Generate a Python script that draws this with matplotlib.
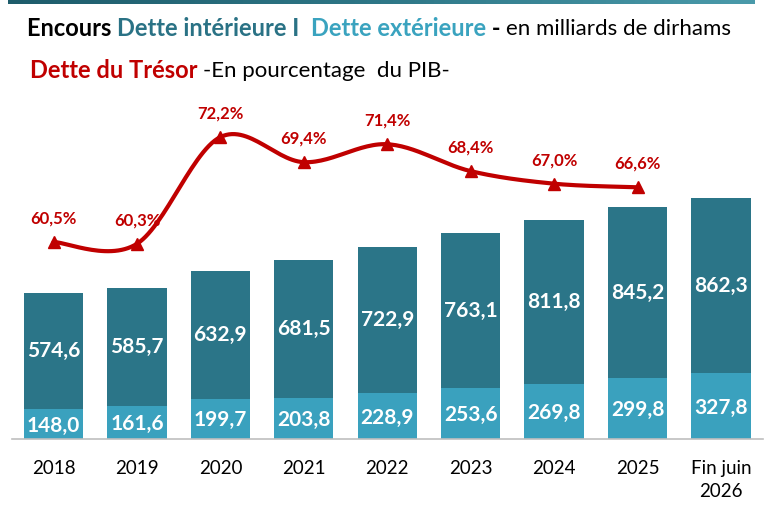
import numpy as np
import matplotlib
matplotlib.use('Agg')
import matplotlib.pyplot as plt
from matplotlib.colors import LinearSegmentedColormap

plt.rcParams['font.family'] = ['Lato', 'DejaVu Sans']

years = ['2018', '2019', '2020', '2021', '2022', '2023', '2024', '2025', 'Fin juin\n2026']
interieure = [574.6, 585.7, 632.9, 681.5, 722.9, 763.1, 811.8, 845.2, 862.3]
exterieure = [148.0, 161.6, 199.7, 203.8, 228.9, 253.6, 269.8, 299.8, 327.8]
pct_pib = [60.5, 60.3, 72.2, 69.4, 71.4, 68.4, 67.0, 66.6]

dark = '#2B7588'
light = '#3AA1BE'
red = '#C00000'

W, H = 768, 515
fig = plt.figure(figsize=(W / 100, H / 100), dpi=100)

# axes placed in pixel terms: baseline at y=439, categories 83.4 px apart
left_px, right_px = 11.8, 762.7
base_px, top_px = 439, 90
ax = fig.add_axes([left_px / W, (H - base_px) / H, (right_px - left_px) / W, (base_px - top_px) / H])
ax.set_xlim(-0.5, len(years) - 0.5)
ax.set_ylim(0, (base_px - top_px) / 0.2022)

x = np.arange(len(years))
ax.bar(x, exterieure, width=0.71, color=light, zorder=2)
ax.bar(x, interieure, width=0.71, bottom=exterieure, color=dark, zorder=2)

def fmt(v):
    return ('%.1f' % v).replace('.', ',')

for i in range(len(years)):
    ax.text(x[i], exterieure[i] / 2 - 8, fmt(exterieure[i]), color='white', fontsize=15,
            fontweight='bold', ha='center', va='center', zorder=3)
    ax.text(x[i], exterieure[i] + interieure[i] / 2, fmt(interieure[i]), color='white', fontsize=15,
            fontweight='bold', ha='center', va='center', zorder=3)

for s in ['top', 'right', 'left']:
    ax.spines[s].set_visible(False)
ax.spines['bottom'].set_color('#BFBFBF')
ax.spines['bottom'].set_linewidth(1.2)
ax.set_yticks([])
ax.set_xticks(x)
ax.set_xticklabels(years, fontsize=13.5, color='black', linespacing=1.45)
ax.tick_params(axis='x', length=0, pad=15)

# secondary axis for % of GDP
ax2 = ax.twinx()
ax2.set_ylim(60.5 - (base_px - 242) / 8.97, 60.5 + (242 - top_px) / 8.97)
ax2.axis('off')

# Excel-like smoothed line (Bezier with Catmull-Rom control points)
xp = np.arange(len(pct_pib), dtype=float)
yp = np.array(pct_pib)
cx, cy = [], []
t = np.linspace(0, 1, 30)
for i in range(len(xp) - 1):
    p0 = np.array([xp[max(i - 1, 0)], yp[max(i - 1, 0)]])
    p1 = np.array([xp[i], yp[i]])
    p2 = np.array([xp[i + 1], yp[i + 1]])
    p3 = np.array([xp[min(i + 2, len(xp) - 1)], yp[min(i + 2, len(xp) - 1)]])
    c1 = p1 + (p2 - p0) / 6
    c2 = p2 - (p3 - p1) / 6
    for tt in t:
        b = ((1 - tt) ** 3) * p1 + 3 * ((1 - tt) ** 2) * tt * c1 + 3 * (1 - tt) * tt ** 2 * c2 + tt ** 3 * p2
        cx.append(b[0])
        cy.append(b[1])
ax2.plot(cx, cy, color=red, lw=3, zorder=4, solid_capstyle='round')
ax2.plot(xp, yp, linestyle='none', marker='^', color=red, markersize=8, zorder=5)
for i, v in enumerate(pct_pib):
    ax2.annotate(fmt(v) + '%', (xp[i], yp[i]), xytext=(0, 17), textcoords='offset points',
                 ha='center', va='center', color=red, fontsize=12, fontweight='bold')

# titles built piece by piece
renderer = fig.canvas.get_renderer()

def line(parts, x0, y0):
    xc = x0
    for txt, col, wt in parts:
        tt = fig.text(xc / W, 1 - y0 / H, txt, color=col, fontsize=17 if wt == 'bold' else 16,
                      fontweight=wt, ha='left', va='center')
        bb = tt.get_window_extent(renderer)
        xc += bb.width

line([('Encours ', 'black', 'bold'), ('Dette intérieure I  ', '#2A7285', 'bold'),
      ('Dette extérieure', '#3AA3BF', 'bold'), (' - ', 'black', 'bold'),
      ('en milliards de dirhams', 'black', 'normal')], 27, 29)
line([('Dette du Trésor ', red, 'bold'), ('-En pourcentage  du PIB-', 'black', 'normal')], 30, 71)

# thin gradient band at the top
band = fig.add_axes([8 / W, 1 - 4 / H, 747 / W, 4 / H])
cmap = LinearSegmentedColormap.from_list('band', ['#1E5C6B', '#2E7787', '#4A9AAA'])
band.imshow(np.linspace(0, 1, 200).reshape(1, -1), aspect='auto', cmap=cmap)
band.axis('off')

fig.savefig('out.png', dpi=100)
